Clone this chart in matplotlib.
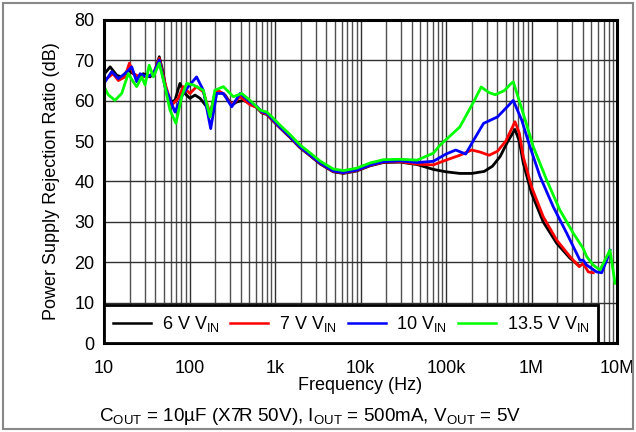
import numpy as np
import matplotlib
matplotlib.use('Agg')
import matplotlib.pyplot as plt
from matplotlib.patches import Rectangle

plt.rcParams['font.family'] = ['Liberation Sans', 'DejaVu Sans']
plt.rcParams['mathtext.fontset'] = 'custom'
plt.rcParams['mathtext.rm'] = 'Liberation Sans'
plt.rcParams['mathtext.it'] = 'Liberation Sans:italic'
plt.rcParams['mathtext.bf'] = 'Liberation Sans:bold'
plt.rcParams['mathtext.default'] = 'rm'

# PSRR curves (Hz, dB)
f_6v = [10, 11.8, 14.1, 16.1, 19.2, 22, 25.2, 28.8, 34.5, 39.5, 44.3, 49.4, 54.1, 59.1, 67.6,
        77.3, 88.4, 101, 116, 133, 159, 174, 198, 227, 261, 312, 357, 427, 510, 612, 700, 800,
        900, 1140, 1500, 1950, 2600, 3400, 4800, 6300, 9000, 13e3, 18.5e3, 29e3, 46e3, 71e3,
        100e3, 145e3, 200e3, 280e3, 350e3, 430e3, 530e3, 641e3, 720e3, 802e3, 1.0e6, 1.37e6,
        1.97e6, 2.82e6, 3.53e6]
db_6v = [66.5, 68.4, 66.3, 65.9, 67.6, 66.7, 65.9, 66.7, 65.9, 67.2, 70.9, 66.7, 61.8, 59.7, 60.1,
         64.3, 61.8, 60.6, 61.4, 60.6, 58.5, 56.4, 61.8, 62.2, 61.4, 58.9, 59.7, 60.1, 59.3, 58.3,
         57.0, 56.6, 55.5, 53.3, 50.9, 48.4, 46.3, 44.3, 42.4, 42.0, 42.6, 43.9, 44.7, 44.8, 44.2,
         43.0, 42.4, 42.0, 42.0, 42.5, 43.8, 46.2, 50.0, 52.9, 50.0, 44.5, 37.1, 30.0, 24.7, 21.0,
         19.3]

f_7v = [10, 12.8, 14.7, 17.6, 19.8, 22, 26.4, 31.6, 37.8, 44.3, 51.7, 61.8, 73.8, 84.5, 101,
        121, 145, 174, 208, 249, 312, 390, 510, 612, 700, 800, 900, 1140, 1500, 1950, 2600, 3400,
        4800, 6300, 9000, 13e3, 18.5e3, 29e3, 46e3, 71e3, 100e3, 145e3, 200e3, 250e3, 320e3,
        400e3, 500e3, 641e3, 720e3, 802e3, 1.0e6, 1.37e6, 1.97e6, 2.82e6, 3.62e6, 4.03e6,
        4.62e6, 5.28e6]
db_7v = [65.0, 66.7, 65.0, 65.9, 69.3, 66.7, 65.9, 66.0, 66.7, 70.5, 64.3, 58.9, 60.6, 63.5, 61.8,
         63.5, 62.2, 56.8, 62.6, 61.8, 58.9, 61.0, 59.0, 58.4, 57.1, 56.7, 55.6, 53.4, 51.0, 48.5,
         46.4, 44.4, 42.5, 42.1, 42.7, 44.0, 44.8, 44.9, 44.3, 44.1, 45.3, 46.5, 47.8, 47.3, 46.5,
         47.5, 50.0, 54.8, 52.0, 46.1, 38.7, 31.3, 25.5, 21.4, 18.9, 19.7, 17.6, 17.4]

f_10v = [10, 12.3, 14.7, 17.6, 21.1, 24.1, 26.4, 31.6, 37.8, 44.3, 51.7, 67.6, 84.5, 96.8, 121,
         145, 177, 208, 249, 312, 390, 510, 612, 700, 800, 900, 1140, 1500, 1950, 2600, 3400,
         4800, 6300, 9000, 13e3, 18.5e3, 29e3, 46e3, 71e3, 100e3, 130e3, 170e3, 210e3, 275e3,
         400e3, 520e3, 612e3, 768e3, 960e3, 1.26e6, 1.80e6, 2.58e6, 3.69e6, 4.03e6, 4.42e6,
         5.78e6, 6.62e6, 7.57e6, 8.28e6]
db_10v = [64.3, 67.2, 65.5, 66.7, 68.4, 64.7, 66.7, 65.9, 66.7, 70.1, 63.5, 57.2, 61.8, 63.5, 65.9,
          62.6, 53.1, 61.8, 61.8, 58.5, 61.8, 59.7, 58.6, 57.3, 56.9, 55.8, 53.5, 51.1, 48.6, 46.5,
          44.5, 42.6, 42.2, 42.8, 44.1, 44.9, 45.1, 44.7, 45.0, 46.8, 47.8, 46.8, 50.2, 54.4, 56.0,
          58.5, 60.1, 55.2, 48.6, 41.2, 33.7, 27.2, 20.5, 20.5, 19.3, 17.6, 17.4, 20.5, 23.0]

f_13v5 = [10, 11.2, 13.45, 16.1, 19.2, 22, 24.1, 27.6, 30.2, 33.8, 37.8, 44.3, 51.7, 59.1, 69.4,
          80.9, 92.5, 110.9, 145, 174, 198, 249, 326, 408, 510, 669, 800, 900, 1140, 1500, 1950,
          2600, 3400, 4800, 6300, 9000, 13e3, 18.5e3, 29e3, 46e3, 71e3, 85e3, 145e3, 210e3,
          258e3, 320e3, 375e3, 480e3, 560e3, 612e3, 802e3, 1.05e6, 1.51e6, 2.15e6, 3.08e6,
          4.03e6, 4.42e6, 5.28e6, 6.32e6, 8.28e6, 9.48e6]
db_13v5 = [63.5, 61.5, 60.1, 61.8, 66.7, 64.7, 63.5, 65.9, 63.9, 68.8, 65.9, 69.3, 63.5, 57.7, 54.4,
           61.0, 64.3, 63.9, 62.6, 56.0, 62.6, 63.5, 61.0, 61.8, 60.1, 57.7, 57.2, 56.2, 54.0, 51.6,
           49.1, 47.0, 45.0, 43.1, 42.7, 43.3, 44.6, 45.4, 45.5, 45.3, 47.0, 49.0, 53.5, 59.7, 63.4,
           62.0, 61.5, 62.5, 64.0, 64.7, 56.8, 48.6, 40.3, 32.9, 27.2, 23.4, 21.4, 19.3, 18.1, 23.0,
           14.8]

labels = ['6 V V$_{IN}$', '7 V V$_{IN}$', '10 V$_{IN}$', '13.5 V V$_{IN}$']
colors = ['#000000', '#ff0000', '#0000ff', '#00ff00']
xticks = [10, 100, 1e3, 1e4, 1e5, 1e6, 1e7]
xticklabels = ['10', '100', '1k', '10k', '100k', '1M', '10M']
yticks = [0, 10, 20, 30, 40, 50, 60, 70, 80]

fig = plt.figure(figsize=(6.36, 4.32), dpi=100)
ax = fig.add_axes([104/636, 89/432, 513/636, 323/432])

series = [(f_6v, db_6v), (f_7v, db_7v), (f_10v, db_10v), (f_13v5, db_13v5)]
for (f, db), c, lab in zip(series, colors, labels):
    ax.plot(f, db, color=c, lw=2.0, label=lab, zorder=3, solid_joinstyle='round')

ax.set_xscale('log')
ax.set_xlim(10, 1e7)
ax.set_ylim(0, 80)
ax.set_xticks(xticks)
ax.set_xticklabels(xticklabels)
ax.set_yticks(yticks)
ax.tick_params(axis='both', which='both', length=0, labelsize=13)
ax.tick_params(axis='x', pad=12)
ax.tick_params(axis='y', pad=7)
ax.grid(True, which='major', axis='both', color='#303030', lw=1.0)
ax.grid(True, which='minor', axis='x', color='#505050', lw=1.0)
for s in ax.spines.values():
    s.set_linewidth(2.2)
    s.set_color('black')
    s.set_zorder(5)

ax.set_xlabel('Frequency (Hz)', fontsize=13, labelpad=0)
ax.set_ylabel('Power Supply Rejection Ratio (dB)', fontsize=13, labelpad=10)

leg = ax.legend(loc='lower left', bbox_to_anchor=(0, 0), ncol=4, fontsize=13,
                borderaxespad=0, fancybox=False, framealpha=1, edgecolor='black',
                handlelength=2.1, handletextpad=0.6, columnspacing=0.6, borderpad=0.5)
leg.get_frame().set_linewidth(2.0)
leg.set_zorder(6)
for h in leg.get_lines():
    h.set_linewidth(1.8)

fig.text(0.487, 0.025, 'C$_{OUT}$ = 10\u00b5F (X7R 50V), I$_{OUT}$ = 500mA, V$_{OUT}$ = 5V',
         ha='center', va='baseline', fontsize=13.6)

# grey frame round the whole picture
fig.patches.append(Rectangle((3/636, 3/432), 630/636, 426/432, transform=fig.transFigure,
                             fill=False, edgecolor='#888888', lw=1.5))

plt.savefig('out.png', dpi=100)
